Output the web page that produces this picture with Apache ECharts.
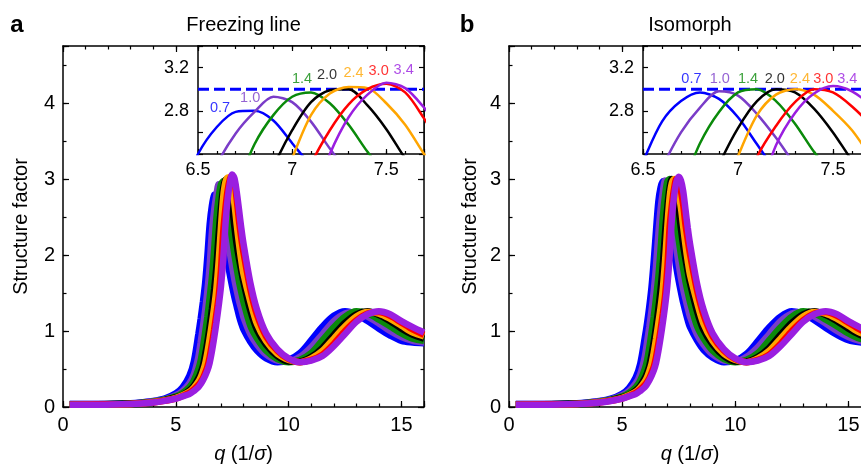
<!DOCTYPE html>
<html>
<head>
<meta charset="utf-8">
<script src="https://cdn.jsdelivr.net/npm/echarts@6/dist/echarts.min.js"></script>
<style>
html,body{margin:0;padding:0;background:#fff;}
#chart{width:861px;height:464px;}
</style>
</head>
<body>
<div id="chart"></div>
<script>
// ---------------- DATA ----------------
const qValues = [0.3, 1.5, 3, 4, 4.5, 5, 5.3, 5.6, 5.8,
  6.0, 6.1, 6.2, 6.3, 6.4, 6.5, 6.6, 6.7, 6.8, 6.9, 7.0, 7.1, 7.2, 7.3, 7.4, 7.5, 7.6, 7.7, 7.8, 7.9, 8.0,
  8.3, 8.6, 9.0, 9.5, 10, 10.5, 11, 11.5, 12, 12.5, 13, 13.5, 14, 14.5, 15, 15.5, 16];

const stateNames = ['0.7', '1.0', '1.4', '2.0', '2.4', '3.0', '3.4'];

// Panel a: freezing line
const freeze07 = [0.04,0.04,0.05,0.08,0.11,0.18,0.26,0.41,0.60, 0.96,1.16,1.38,1.63,1.99,2.40,2.65,2.79,2.80,2.71,2.50,2.29,2.09,1.90,1.73,1.58,1.44,1.32,1.20,1.10,1.02, 0.86,0.74,0.64,0.59,0.62,0.71,0.88,1.06,1.20,1.26,1.22,1.13,1.03,0.94,0.87,0.85,0.84];
const freeze10 = [0.04,0.04,0.045,0.075,0.10,0.155,0.21,0.31,0.43, 0.66,0.85,1.05,1.27,1.53,1.86,2.30,2.59,2.79,2.93,2.88,2.70,2.45,2.22,2.02,1.84,1.67,1.53,1.40,1.29,1.18, 0.96,0.82,0.69,0.61,0.60,0.66,0.79,0.96,1.13,1.23,1.25,1.19,1.10,1.00,0.92,0.87,0.85];
const freeze14 = [0.035,0.035,0.045,0.07,0.095,0.14,0.185,0.26,0.35, 0.50,0.61,0.78,0.98,1.19,1.44,1.71,2.07,2.49,2.76,2.93,2.97,2.87,2.67,2.42,2.20,2.00,1.82,1.65,1.51,1.38, 1.07,0.90,0.74,0.63,0.59,0.62,0.71,0.88,1.05,1.19,1.26,1.23,1.15,1.06,0.97,0.90,0.87];
const freeze20 = [0.035,0.035,0.045,0.065,0.09,0.13,0.16,0.22,0.28, 0.38,0.45,0.54,0.69,0.86,1.06,1.29,1.55,1.86,2.28,2.62,2.88,2.99,3.00,2.85,2.63,2.36,2.13,1.95,1.79,1.64, 1.27,1.01,0.82,0.67,0.60,0.60,0.66,0.78,0.95,1.11,1.22,1.26,1.21,1.13,1.03,0.95,0.90];
const freeze24 = [0.03,0.035,0.04,0.065,0.085,0.12,0.155,0.20,0.255, 0.335,0.39,0.47,0.57,0.72,0.90,1.10,1.31,1.56,1.92,2.36,2.76,2.96,3.02,3.01,2.87,2.67,2.40,2.15,1.93,1.75, 1.39,1.09,0.87,0.70,0.62,0.59,0.64,0.74,0.90,1.06,1.19,1.25,1.23,1.16,1.07,0.98,0.93];
const freeze30 = [0.03,0.035,0.04,0.06,0.082,0.112,0.145,0.185,0.23, 0.29,0.33,0.38,0.45,0.53,0.66,0.83,1.02,1.23,1.46,1.80,2.30,2.62,2.86,3.00,3.05,2.97,2.73,2.45,2.22,2.03, 1.55,1.21,0.93,0.74,0.63,0.59,0.62,0.69,0.83,1.00,1.14,1.23,1.25,1.20,1.11,1.02,0.95];
const freeze34 = [0.03,0.03,0.04,0.06,0.08,0.11,0.14,0.17,0.21, 0.26,0.30,0.35,0.41,0.48,0.58,0.73,0.91,1.11,1.33,1.58,1.93,2.40,2.74,2.95,3.06,3.01,2.83,2.60,2.36,2.15, 1.64,1.28,0.97,0.76,0.64,0.59,0.61,0.67,0.80,0.96,1.12,1.22,1.26,1.22,1.13,1.05,0.98];

// Panel b: isomorph
const iso07 = [0.04,0.04,0.05,0.08,0.11,0.175,0.25,0.39,0.57, 0.91,1.10,1.32,1.58,1.93,2.33,2.70,2.89,2.97,2.91,2.74,2.49,2.24,2.03,1.83,1.66,1.51,1.37,1.25,1.14,1.05, 0.88,0.75,0.65,0.59,0.61,0.70,0.87,1.05,1.19,1.26,1.23,1.14,1.04,0.95,0.88,0.85,0.84];
const iso10 = [0.04,0.04,0.045,0.075,0.10,0.155,0.21,0.31,0.43, 0.66,0.85,1.05,1.27,1.53,1.86,2.27,2.60,2.83,2.98,2.94,2.77,2.55,2.30,2.08,1.88,1.70,1.55,1.42,1.30,1.19, 0.96,0.82,0.69,0.61,0.60,0.66,0.79,0.96,1.13,1.23,1.25,1.19,1.10,1.00,0.92,0.87,0.85];
const iso14 = [0.035,0.035,0.045,0.07,0.095,0.14,0.185,0.26,0.35, 0.50,0.61,0.78,0.98,1.19,1.44,1.71,2.07,2.50,2.79,2.97,3.00,2.89,2.68,2.42,2.20,2.00,1.82,1.65,1.51,1.38, 1.07,0.90,0.74,0.63,0.59,0.62,0.71,0.88,1.05,1.19,1.26,1.23,1.15,1.06,0.97,0.90,0.87];
const iso20 = [0.035,0.035,0.045,0.065,0.09,0.13,0.16,0.22,0.28, 0.38,0.45,0.54,0.69,0.86,1.06,1.29,1.55,1.88,2.30,2.64,2.89,3.00,2.97,2.82,2.60,2.34,2.12,1.94,1.78,1.63, 1.27,1.01,0.82,0.67,0.60,0.60,0.66,0.78,0.95,1.11,1.22,1.26,1.21,1.13,1.03,0.95,0.90];
const iso24 = [0.03,0.035,0.04,0.065,0.085,0.12,0.155,0.20,0.255, 0.335,0.39,0.47,0.57,0.72,0.90,1.10,1.31,1.56,1.93,2.38,2.76,2.95,3.00,2.95,2.80,2.62,2.37,2.13,1.92,1.74, 1.39,1.09,0.87,0.70,0.62,0.59,0.64,0.74,0.90,1.06,1.19,1.25,1.23,1.16,1.07,0.98,0.93];
const iso30 = [0.03,0.035,0.04,0.06,0.082,0.112,0.145,0.185,0.23, 0.29,0.33,0.38,0.45,0.53,0.66,0.83,1.02,1.23,1.47,1.84,2.37,2.66,2.88,3.00,2.97,2.84,2.66,2.40,2.20,2.01, 1.55,1.21,0.93,0.74,0.63,0.59,0.62,0.69,0.83,1.00,1.14,1.23,1.25,1.20,1.11,1.02,0.95];
const iso34 = [0.03,0.03,0.04,0.06,0.08,0.11,0.14,0.17,0.21, 0.26,0.30,0.35,0.41,0.48,0.58,0.73,0.91,1.11,1.33,1.60,1.98,2.48,2.78,2.96,3.03,2.98,2.84,2.60,2.36,2.15, 1.64,1.28,0.97,0.76,0.64,0.59,0.61,0.67,0.80,0.96,1.12,1.22,1.26,1.22,1.13,1.05,0.98];

// inset annotation anchors (data coordinates of the inset)
const labelQFreeze = [6.617, 6.777, 7.052, 7.185, 7.326, 7.459, 7.592];
const labelSFreeze = [2.828, 2.920, 3.096, 3.136, 3.151, 3.173, 3.182];
const labelQIso = [6.755, 6.904, 7.053, 7.194, 7.326, 7.449, 7.575];
const labelSIso = [3.098, 3.098, 3.098, 3.098, 3.098, 3.098, 3.098];

// dashed reference level in the insets
const dashQ = [6.5, 7.7];
const dashS = [3.0, 3.0];

// ---------------- STYLE ----------------
const colors = ['#0000ff', '#7a3cc8', '#0a8a0a', '#000000', '#ffa500', '#ff0000', '#9a1ee0'];
const FONT = '"Liberation Sans", Arial, Helvetica, sans-serif';
const BLACK = '#000';

function tick(len) { return {show: true, inside: true, length: len, lineStyle: {color: BLACK, width: 1.2}}; }
function aline(show) { return {show: show, onZero: false, lineStyle: {color: BLACK, width: 1.5}}; }
function lab(fs, margin, fmt) { return {show: true, color: BLACK, fontSize: fs, fontFamily: FONT, margin: margin, formatter: fmt}; }
function ax(o) {
  return Object.assign({type: 'value', splitLine: {show: false}, axisLabel: {show: false},
    axisPointer: {show: false}, silent: true}, o);
}

const fmtMainX = v => (Math.abs(v % 5) < 1e-9 ? String(v) : '');
const fmtMainY = v => (Math.abs(v - Math.round(v)) < 1e-9 ? String(Math.round(v)) : '');
const fmtInsX = v => (Math.abs(v * 2 - Math.round(v * 2)) < 1e-6 ? String(Math.round(v * 2) / 2) : '');
const fmtInsY = v => ((Math.abs(v - 2.8) < 1e-6 || Math.abs(v - 3.2) < 1e-6) ? v.toFixed(1) : '');

function panelAxes(gMain, gIns) {
  const x = [
    ax({gridIndex: gMain, position: 'bottom', min: 0, max: 16, interval: 5, axisLine: aline(true), axisTick: tick(6), axisLabel: lab(20, 8, fmtMainX)}),
    ax({gridIndex: gMain, position: 'bottom', min: 0, max: 16, interval: 1, axisLine: aline(false), axisTick: tick(3.5)}),
    ax({gridIndex: gMain, position: 'top', min: 0, max: 16, interval: 5, axisLine: aline(true), axisTick: tick(6)}),
    ax({gridIndex: gMain, position: 'top', min: 0, max: 16, interval: 1, axisLine: aline(false), axisTick: tick(3.5)}),
    ax({gridIndex: gIns, z: 4, position: 'bottom', min: 6.5, max: 7.7, interval: 0.5, axisLine: aline(true), axisTick: tick(5), axisLabel: lab(18, 7, fmtInsX)}),
    ax({gridIndex: gIns, z: 4, position: 'bottom', min: 6.5, max: 7.7, interval: 0.1, axisLine: aline(false), axisTick: tick(3)}),
    ax({gridIndex: gIns, z: 4, position: 'top', min: 6.5, max: 7.7, interval: 0.5, axisLine: aline(true), axisTick: tick(5)}),
    ax({gridIndex: gIns, z: 4, position: 'top', min: 6.5, max: 7.7, interval: 0.1, axisLine: aline(false), axisTick: tick(3)})
  ];
  const y = [
    ax({gridIndex: gMain, position: 'left', min: 0, max: 4.75, interval: 1, axisLine: aline(true), axisTick: tick(6), axisLabel: lab(20, 8, fmtMainY)}),
    ax({gridIndex: gMain, position: 'left', min: 0, max: 4.75, interval: 0.5, axisLine: aline(false), axisTick: tick(3.5)}),
    ax({gridIndex: gMain, position: 'right', min: 0, max: 4.75, interval: 1, axisLine: aline(true), axisTick: tick(6)}),
    ax({gridIndex: gMain, position: 'right', min: 0, max: 4.75, interval: 0.5, axisLine: aline(false), axisTick: tick(3.5)}),
    ax({gridIndex: gIns, z: 4, position: 'left', min: 2.4, max: 3.4, interval: 0.2, axisLine: aline(true), axisTick: tick(5), axisLabel: lab(18, 9, fmtInsY)}),
    ax({gridIndex: gIns, z: 4, position: 'right', min: 2.4, max: 3.4, interval: 0.2, axisLine: aline(true), axisTick: tick(5)})
  ];
  return {x, y};
}

function panelSeries(curves, xBase, yBase, labQ, labS) {
  const out = [];
  out.push({
    type: 'line', xAxisIndex: xBase + 4, yAxisIndex: yBase + 4, z: 5, silent: true,
    data: dashQ.map((qq, i) => [qq, dashS[i]]), showSymbol: false,
    lineStyle: {color: '#0000ff', width: 3, type: [11, 5]}
  });
  curves.forEach((s, i) => {
    const pts = qValues.map((qq, j) => [qq, s[j]]);
    out.push({
      type: 'line', xAxisIndex: xBase, yAxisIndex: yBase, z: 2, silent: true,
      data: pts, smooth: 0.3, showSymbol: false,
      lineStyle: {color: colors[i], width: 6.5}
    });
    out.push({
      type: 'line', xAxisIndex: xBase + 4, yAxisIndex: yBase + 4, z: 5, silent: true,
      data: pts, smooth: 0.3, showSymbol: false, clip: true,
      lineStyle: {color: colors[i], width: 2.5}
    });
  });
  out.push({
    type: 'scatter', xAxisIndex: xBase + 4, yAxisIndex: yBase + 4, z: 6, silent: true,
    symbolSize: 1, itemStyle: {color: 'rgba(0,0,0,0)'},
    data: labQ.map((qq, i) => ({
      value: [qq, labS[i]],
      label: {show: true, position: 'inside', formatter: stateNames[i], color: colors[i], fontSize: 14.5, fontFamily: FONT}
    }))
  });
  return out;
}

const axA = panelAxes(0, 1);
const axB = panelAxes(2, 3);

const gridBase = {containLabel: false, outerBoundsMode: 'none'};
const option = {
  animation: false,
  backgroundColor: '#fff',
  grid: [
    Object.assign({left: 63, top: 46, width: 361, height: 361, show: false}, gridBase),
    Object.assign({left: 198, top: 46, width: 226, height: 108, show: true, backgroundColor: '#fff', borderWidth: 0, z: 3}, gridBase),
    Object.assign({left: 509, top: 46, width: 362, height: 361, show: false}, gridBase),
    Object.assign({left: 643, top: 46, width: 228, height: 108, show: true, backgroundColor: '#fff', borderWidth: 0, z: 3}, gridBase)
  ],
  xAxis: axA.x.concat(axB.x),
  yAxis: axA.y.concat(axB.y),
  series: panelSeries([freeze07, freeze10, freeze14, freeze20, freeze24, freeze30, freeze34], 0, 0, labelQFreeze, labelSFreeze)
    .concat(panelSeries([iso07, iso10, iso14, iso20, iso24, iso30, iso34], 8, 6, labelQIso, labelSIso)),
  graphic: [
    {type: 'text', x: 17, y: 25, style: {text: 'a', fill: BLACK, font: 'bold 24px ' + FONT, align: 'center', verticalAlign: 'middle', textAlign: 'center', textVerticalAlign: 'middle'}},
    {type: 'text', x: 467, y: 25, style: {text: 'b', fill: BLACK, font: 'bold 24px ' + FONT, align: 'center', verticalAlign: 'middle', textAlign: 'center', textVerticalAlign: 'middle'}},
    {type: 'text', x: 243.5, y: 25, style: {text: 'Freezing line', fill: BLACK, font: '20px ' + FONT, align: 'center', verticalAlign: 'middle', textAlign: 'center', textVerticalAlign: 'middle'}},
    {type: 'text', x: 690, y: 25, style: {text: 'Isomorph', fill: BLACK, font: '20px ' + FONT, align: 'center', verticalAlign: 'middle', textAlign: 'center', textVerticalAlign: 'middle'}},
    {type: 'text', x: 21, y: 226.5, rotation: Math.PI / 2, style: {text: 'Structure factor', fill: BLACK, font: '20px ' + FONT, align: 'center', verticalAlign: 'middle', textAlign: 'center', textVerticalAlign: 'middle'}},
    {type: 'text', x: 470, y: 226.5, rotation: Math.PI / 2, style: {text: 'Structure factor', fill: BLACK, font: '20px ' + FONT, align: 'center', verticalAlign: 'middle', textAlign: 'center', textVerticalAlign: 'middle'}},
    {type: 'text', x: 243.5, y: 454, style: {text: '{i|q} (1/{i|σ})', fill: BLACK, fontSize: 20, fontFamily: FONT, align: 'center', verticalAlign: 'middle', textAlign: 'center', textVerticalAlign: 'middle', rich: {i: {fontStyle: 'italic', fontSize: 20, fontFamily: FONT, fill: BLACK}}}},
    {type: 'text', x: 690, y: 454, style: {text: '{i|q} (1/{i|σ})', fill: BLACK, fontSize: 20, fontFamily: FONT, align: 'center', verticalAlign: 'middle', textAlign: 'center', textVerticalAlign: 'middle', rich: {i: {fontStyle: 'italic', fontSize: 20, fontFamily: FONT, fill: BLACK}}}}
  ]
};

const chart = echarts.init(document.getElementById('chart'), null, {renderer: 'canvas'});
chart.setOption(option);
</script>
</body>
</html>
